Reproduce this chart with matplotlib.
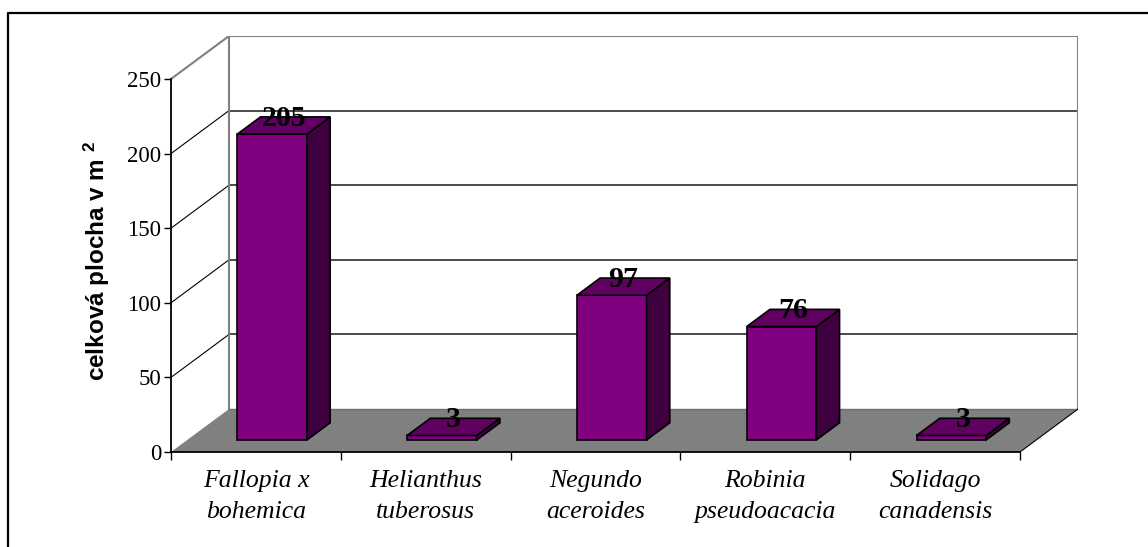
import matplotlib
matplotlib.use("Agg")
import matplotlib.pyplot as plt
from matplotlib.patches import Polygon
from matplotlib.lines import Line2D

species = ["Fallopia x\nbohemica", "Helianthus\ntuberosus", "Negundo\naceroides",
           "Robinia\npseudoacacia", "Solidago\ncanadensis"]
area = [205, 3, 97, 76, 3]
y_ticks = [0, 50, 100, 150, 200, 250]
y_label = "celková plocha v m $^{2}$"

# pseudo 3D: how far the back wall is pushed right (categories) and up (values)
DX = 0.3416
DY = 28.8
BAR_W = 0.41
F0, F1 = 0.28, 0.68          # front / back of the bars as a fraction of depth
YMAX = 250
N = len(species)

FACE = "#800080"
TOP = "#600060"
SIDE = "#3f003f"
FLOOR = "#808080"
WALL = "#808080"

plt.rcParams["font.family"] = ["Liberation Serif", "DejaVu Serif"]
plt.rcParams["mathtext.fontset"] = "custom"
plt.rcParams["mathtext.rm"] = "Liberation Sans:bold"
plt.rcParams["mathtext.it"] = "Liberation Sans:bold"
plt.rcParams["mathtext.bf"] = "Liberation Sans:bold"

W, H = 1148, 547
fig = plt.figure(figsize=(W / 100, H / 100), dpi=100)
left, right, bottom, top = 171, 1078, 452, 36
ax = fig.add_axes([left / W, 1 - bottom / H, (right - left) / W, (bottom - top) / H])
ax.set_xlim(0, N + DX)
ax.set_ylim(0, YMAX + DY)
for s in ax.spines.values():
    s.set_visible(False)


def pt(x, y, f):
    return (x + DX * f, y + DY * f)


# back wall gridlines and left wall diagonals
for v in y_ticks[1:]:
    c = WALL if v == YMAX else "#1a1a1a"
    lw = 1.5 if v == YMAX else 1.1
    ax.plot([DX, N + DX], [v + DY, v + DY], color=c, lw=lw, zorder=1)
    ax.plot([0, DX], [v, v + DY], color=c if v == YMAX else "black", lw=lw if v == YMAX else 0.8, zorder=1)
ax.plot([DX, DX], [DY, YMAX + DY], color=WALL, lw=1.5, zorder=1)
ax.plot([N + DX, N + DX], [DY, YMAX + DY], color=WALL, lw=1.5, zorder=1)

# floor
ax.add_patch(Polygon([pt(0, 0, 0), pt(N, 0, 0), pt(N, 0, 1), pt(0, 0, 1)],
                     closed=True, facecolor=FLOOR, edgecolor="none", zorder=2))
ax.plot([DX, N + DX], [DY, DY], color="#6e6e6e", lw=1.0, zorder=2)
ax.plot([N, N + DX], [0, DY], color="black", lw=0.8, zorder=2)

# front axis lines
ax.plot([0, N], [0, 0], color="black", lw=1.3, zorder=3, clip_on=False)
ax.plot([0, 0], [0, YMAX], color="black", lw=1.3, zorder=3, clip_on=False)

# bars
for i, v in enumerate(area):
    x0 = i + 0.5 - BAR_W / 2
    x1 = x0 + BAR_W
    front = [pt(x0, 0, F0), pt(x1, 0, F0), pt(x1, v, F0), pt(x0, v, F0)]
    side = [pt(x1, 0, F0), pt(x1, 0, F1), pt(x1, v, F1), pt(x1, v, F0)]
    lid = [pt(x0, v, F0), pt(x1, v, F0), pt(x1, v, F1), pt(x0, v, F1)]
    for poly, col in ((front, FACE), (side, SIDE), (lid, TOP)):
        ax.add_patch(Polygon(poly, closed=True, facecolor=col, edgecolor="black",
                             lw=1.2, joinstyle="miter", zorder=4))
    ax.text(i + 0.5 + DX * 0.48, v + DY * 0.47, str(v), ha="center", va="baseline",
            fontsize=21.5, fontweight="bold", zorder=5)

# ticks
ax.set_yticks(y_ticks)
ax.tick_params(axis="y", direction="out", length=5, width=1, labelsize=16.5, pad=2)
ax.set_xticks(range(N + 1))
ax.set_xticklabels([""] * (N + 1))
ax.tick_params(axis="x", which="major", direction="out", length=6, width=1)
ax.set_xticks([i + 0.5 for i in range(N)], minor=True)
ax.set_xticklabels(species, minor=True, fontsize=18.5, style="italic", linespacing=1.5)
ax.tick_params(axis="x", which="minor", length=0, pad=13)

fig.text(97 / W, 1 - 261 / H, y_label, rotation=90, ha="center", va="center",
         fontsize=17.5, fontweight="bold", family=["Liberation Sans", "DejaVu Sans"])

# chart frame
fig.add_artist(Line2D([8 / W, 8 / W, 1], [0, 1 - 13 / H, 1 - 13 / H],
                      transform=fig.transFigure, color="black", lw=1.6))

fig.savefig("out.png", dpi=100)
